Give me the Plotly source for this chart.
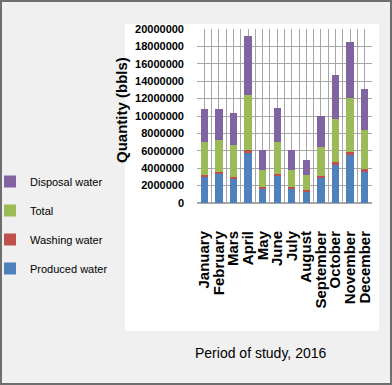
import plotly.graph_objects as go

months = ["January", "February", "Mars", "April", "May", "June", "July",
          "August", "September", "October", "November", "December"]
produced_water = [3000000, 3300000, 2750000, 5700000, 1700000, 3150000,
                  1700000, 1350000, 2900000, 4400000, 5500000, 3600000]
washing_water = [200000, 250000, 250000, 350000, 150000, 200000,
                 150000, 100000, 200000, 300000, 350000, 300000]
total = [3800000, 3700000, 3650000, 6400000, 1900000, 3650000,
         1900000, 1750000, 3300000, 4900000, 6200000, 4500000]
disposal_water = [3850000, 3550000, 3700000, 6700000, 2400000, 3950000,
                  2400000, 1800000, 3650000, 5150000, 6500000, 4700000]
y_ticks = [0, 2000000, 4000000, 6000000, 8000000, 10000000,
           12000000, 14000000, 16000000, 18000000, 20000000]

series = [
    ("Produced water", produced_water, "#4f81bd", 4),
    ("Washing water", washing_water, "#c0504d", 3),
    ("Total", total, "#9bbb59", 2),
    ("Disposal water", disposal_water, "#8064a2", 1),
]

xpos = list(range(len(months)))
fig = go.Figure()
for name, vals, col, rank in series:
    fig.add_trace(go.Bar(x=xpos, y=vals, name=name, marker_color=col,
                         marker_line_width=0, legendgroup=name, legendrank=rank))

L, R, T, B = 197, 372, 29, 203
W, H = 392, 385
pw, ph = R - L, B - T

def px(xp):
    return (xp - L) / pw

def py(yp):
    return (B - yp) / ph

arial = "Liberation Sans, Arial, sans-serif"

fig.update_layout(
    width=W, height=H,
    margin=dict(l=L, r=W - R, t=T, b=H - B, autoexpand=False),
    paper_bgcolor="#f0f0f0",
    plot_bgcolor="rgba(0,0,0,0)",
    barmode="stack",
    bargap=0.5,
    showlegend=True,
    legend=dict(x=px(-10), y=py(167), xanchor="left", yanchor="top",
                traceorder="grouped", tracegroupgap=10,
                font=dict(family=arial, size=11, color="black"),
                bgcolor="rgba(0,0,0,0)", itemwidth=30),
    xaxis=dict(range=[-0.5, len(months) - 0.5], tickvals=xpos, ticktext=months,
               tickangle=-90, showgrid=True, gridcolor="#a6a6a6", gridwidth=1,
               minor=dict(dtick=0.5, tick0=-0.5, showgrid=True, gridcolor="#a6a6a6"),
               ticklabelstandoff=24, zeroline=False, showline=False,
               tickfont=dict(family=arial, size=15, color="black", weight="bold")),
    yaxis=dict(range=[0, 20000000], tickvals=y_ticks,
               ticktext=[str(v) for v in y_ticks],
               showgrid=True, gridcolor="#a6a6a6", gridwidth=1,
               zeroline=True, zerolinecolor="#a6a6a6", showline=False,
               ticklabelstandoff=12,
               tickfont=dict(family=arial, size=11, color="black", weight="bold")),
    shapes=[
        dict(type="rect", xref="paper", yref="paper", layer="below",
             x0=px(125), x1=px(379), y0=py(331), y1=py(24),
             fillcolor="white", line_width=0),
        dict(type="rect", xref="paper", yref="paper", layer="above",
             x0=px(1), x1=px(391), y0=py(384), y1=py(1),
             fillcolor="rgba(0,0,0,0)", line=dict(color="#6e6e6e", width=2)),
    ],
    annotations=[
        dict(text="Quantity (bbls)", xref="paper", yref="paper",
             x=px(121), y=py(110), xanchor="center", yanchor="middle",
             textangle=-90, showarrow=False,
             font=dict(family=arial, size=15, color="black", weight="bold")),
        dict(text="Period of study, 2016", xref="paper", yref="paper",
             x=px(260), y=py(353), xanchor="center", yanchor="middle",
             showarrow=False,
             font=dict(family=arial, size=14, color="black")),
    ],
)

fig.write_html("out.html", config={"displayModeBar": False},
               post_script="document.body.style.margin='0';document.body.style.overflow='hidden';")
